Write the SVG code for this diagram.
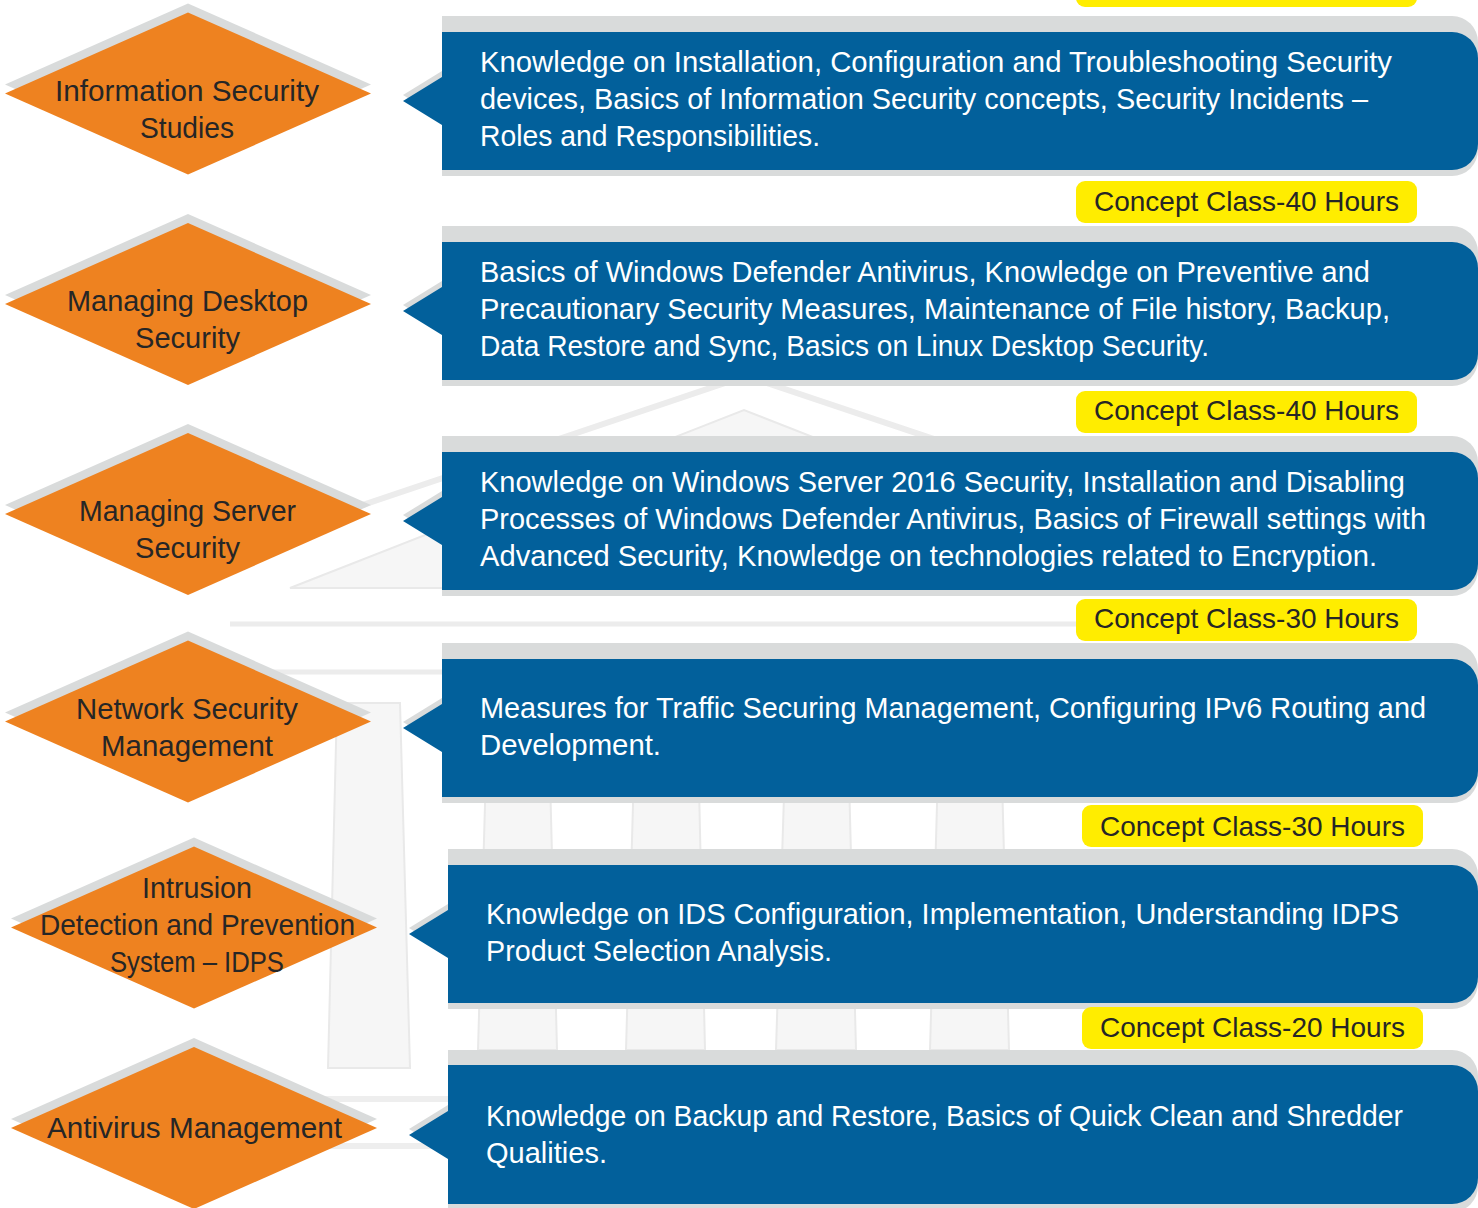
<svg xmlns="http://www.w3.org/2000/svg" xmlns:xlink="http://www.w3.org/1999/xlink" width="1478" height="1208" viewBox="0 0 1478 1208">
<style>
.dia{fill:#EE8220}
.sh{fill:#D9DBDB}
.box{fill:#02609B}
.lab{fill:#FFED00}
.dt{font-family:"Liberation Sans",Arial,sans-serif;font-size:29px;fill:#262626;text-anchor:middle}
.bt{font-family:"Liberation Sans",Arial,sans-serif;font-size:29px;fill:#FFFFFF}
.lt{font-family:"Liberation Sans",Arial,sans-serif;font-size:28px;fill:#262626;text-anchor:middle}
.bgl{stroke:#ECECEC;fill:none}
.bgf{fill:#F6F6F6;stroke:#E9E9E9;stroke-width:2}
</style>
<defs>
<path id="dm" d="M-183,0 L0,-81 L183,0 L0,81 Z"/>
</defs>
<rect width="1478" height="1208" fill="#FFFFFF"/>
<g id="background">
<polygon class="bgf" points="290,588 744,410 1198,588" stroke-width="3"/>
<polyline class="bgl" points="330,516 746,376 1190,525" stroke-width="6"/>
<line class="bgl" x1="230" y1="624" x2="1300" y2="624" stroke-width="5"/>
<line class="bgl" x1="240" y1="672" x2="1300" y2="672" stroke-width="5"/>
<polygon class="bgf" points="337,703 400,703 410,1068 328,1068"/>
<polygon class="bgf" points="488,700 548,700 557,1050 478,1050"/>
<polygon class="bgf" points="636,700 697,700 705,1050 626,1050"/>
<polygon class="bgf" points="787,700 847,700 856,1050 776,1050"/>
<polygon class="bgf" points="940,700 1000,700 1009,1050 930,1050"/>
<rect x="300" y="1096" width="148" height="6" fill="#EEEEEE"/>
<rect x="300" y="1143" width="148" height="6" fill="#EEEEEE"/>
</g>
<g id="label-top"><rect class="lab" x="1076" y="-40" width="341" height="47" rx="9"/></g>

<g id="node-1">
<use href="#dm" class="sh" x="188" y="84.5"/>
<use href="#dm" class="dia" x="188" y="93.5"/>
<text class="dt" x="187" y="101" textLength="264" lengthAdjust="spacingAndGlyphs">Information Security</text>
<text class="dt" x="187" y="138" textLength="94" lengthAdjust="spacingAndGlyphs">Studies</text>
</g>
<g id="node-2">
<use href="#dm" class="sh" x="188" y="295"/>
<use href="#dm" class="dia" x="188" y="304"/>
<text class="dt" x="187.5" y="311" textLength="241" lengthAdjust="spacingAndGlyphs">Managing Desktop</text>
<text class="dt" x="187.5" y="348" textLength="105" lengthAdjust="spacingAndGlyphs">Security</text>
</g>
<g id="node-3">
<use href="#dm" class="sh" x="188" y="505"/>
<use href="#dm" class="dia" x="188" y="514"/>
<text class="dt" x="187.5" y="521" textLength="217" lengthAdjust="spacingAndGlyphs">Managing Server</text>
<text class="dt" x="187.5" y="558" textLength="105" lengthAdjust="spacingAndGlyphs">Security</text>
</g>
<g id="node-4">
<use href="#dm" class="sh" x="188" y="712.5"/>
<use href="#dm" class="dia" x="188" y="721.5"/>
<text class="dt" x="187" y="719" textLength="222" lengthAdjust="spacingAndGlyphs">Network Security</text>
<text class="dt" x="187" y="756" textLength="172" lengthAdjust="spacingAndGlyphs">Management</text>
</g>
<g id="node-5">
<use href="#dm" class="sh" x="194" y="918.5"/>
<use href="#dm" class="dia" x="194" y="927.5"/>
<text class="dt" x="197" y="898" textLength="110" lengthAdjust="spacingAndGlyphs">Intrusion</text>
<text class="dt" x="197.5" y="935" textLength="315" lengthAdjust="spacingAndGlyphs">Detection and Prevention</text>
<text class="dt" x="197" y="972" textLength="174" lengthAdjust="spacingAndGlyphs">System – IDPS</text>
</g>
<g id="node-6">
<use href="#dm" class="sh" x="194" y="1119"/>
<use href="#dm" class="dia" x="194" y="1128"/>
<text class="dt" x="194.5" y="1138" textLength="295" lengthAdjust="spacingAndGlyphs">Antivirus Management</text>
</g>

<g id="connectors">
<polygon class="sh" points="442,71 403,95 442,119"/>
<polygon class="box" points="442,77 403,101 442,125"/>
<polygon class="sh" points="442,281 403,305 442,329"/>
<polygon class="box" points="442,287 403,311 442,335"/>
<polygon class="sh" points="442,491 403,515 442,539"/>
<polygon class="box" points="442,497 403,521 442,545"/>
<polygon class="sh" points="442,698 403,722 442,746"/>
<polygon class="box" points="442,704 403,728 442,752"/>
<polygon class="sh" points="448,904 409,928 448,952"/>
<polygon class="box" points="448,910 409,934 448,958"/>
<polygon class="sh" points="448,1105 409,1129 448,1153"/>
<polygon class="box" points="448,1111 409,1135 448,1159"/>
</g>

<g id="box-1">
<path class="sh" d="M442,16 H1452 A26,26 0 0 1 1478,42 V150 A26,26 0 0 1 1452,176 H442 Z"/>
<path class="box" d="M442,32 H1452 A26,26 0 0 1 1478,58 V144 A26,26 0 0 1 1452,170 H442 Z"/>
<text class="bt" x="480" y="72" textLength="912" lengthAdjust="spacingAndGlyphs">Knowledge on Installation, Configuration and Troubleshooting Security</text>
<text class="bt" x="480" y="109" textLength="888" lengthAdjust="spacingAndGlyphs">devices, Basics of Information Security concepts, Security Incidents –</text>
<text class="bt" x="480" y="146" textLength="340" lengthAdjust="spacingAndGlyphs">Roles and Responsibilities.</text>
</g>
<g id="label-1"><rect class="lab" x="1076" y="181" width="341" height="42" rx="9"/><text class="lt" x="1246.5" y="211" textLength="305" lengthAdjust="spacingAndGlyphs">Concept Class-40 Hours</text></g>

<g id="box-2">
<path class="sh" d="M442,226 H1452 A26,26 0 0 1 1478,252 V360 A26,26 0 0 1 1452,386 H442 Z"/>
<path class="box" d="M442,242 H1452 A26,26 0 0 1 1478,268 V354 A26,26 0 0 1 1452,380 H442 Z"/>
<text class="bt" x="480" y="282" textLength="890" lengthAdjust="spacingAndGlyphs">Basics of Windows Defender Antivirus, Knowledge on Preventive and</text>
<text class="bt" x="480" y="319" textLength="910" lengthAdjust="spacingAndGlyphs">Precautionary Security Measures, Maintenance of File history, Backup,</text>
<text class="bt" x="480" y="356" textLength="729" lengthAdjust="spacingAndGlyphs">Data Restore and Sync, Basics on Linux Desktop Security.</text>
</g>
<g id="label-2"><rect class="lab" x="1076" y="391" width="341" height="42" rx="9"/><text class="lt" x="1246.5" y="420" textLength="305" lengthAdjust="spacingAndGlyphs">Concept Class-40 Hours</text></g>

<g id="box-3">
<path class="sh" d="M442,436 H1452 A26,26 0 0 1 1478,462 V570 A26,26 0 0 1 1452,596 H442 Z"/>
<path class="box" d="M442,452 H1452 A26,26 0 0 1 1478,478 V564 A26,26 0 0 1 1452,590 H442 Z"/>
<text class="bt" x="480" y="492" textLength="925" lengthAdjust="spacingAndGlyphs">Knowledge on Windows Server 2016 Security, Installation and Disabling</text>
<text class="bt" x="480" y="529" textLength="946" lengthAdjust="spacingAndGlyphs">Processes of Windows Defender Antivirus, Basics of Firewall settings with</text>
<text class="bt" x="480" y="566" textLength="897" lengthAdjust="spacingAndGlyphs">Advanced Security, Knowledge on technologies related to Encryption.</text>
</g>
<g id="label-3"><rect class="lab" x="1076" y="599" width="341" height="42" rx="9"/><text class="lt" x="1246.5" y="628" textLength="305" lengthAdjust="spacingAndGlyphs">Concept Class-30 Hours</text></g>

<g id="box-4">
<path class="sh" d="M442,643 H1452 A26,26 0 0 1 1478,669 V777 A26,26 0 0 1 1452,803 H442 Z"/>
<path class="box" d="M442,659 H1452 A26,26 0 0 1 1478,685 V771 A26,26 0 0 1 1452,797 H442 Z"/>
<text class="bt" x="480" y="718" textLength="946" lengthAdjust="spacingAndGlyphs">Measures for Traffic Securing Management, Configuring IPv6 Routing and</text>
<text class="bt" x="480" y="755" textLength="181" lengthAdjust="spacingAndGlyphs">Development.</text>
</g>
<g id="label-4"><rect class="lab" x="1082" y="805" width="341" height="42" rx="9"/><text class="lt" x="1252.5" y="836" textLength="305" lengthAdjust="spacingAndGlyphs">Concept Class-30 Hours</text></g>

<g id="box-5">
<path class="sh" d="M448,849 H1452 A26,26 0 0 1 1478,875 V983 A26,26 0 0 1 1452,1009 H448 Z"/>
<path class="box" d="M448,865 H1452 A26,26 0 0 1 1478,891 V977 A26,26 0 0 1 1452,1003 H448 Z"/>
<text class="bt" x="486" y="924" textLength="913" lengthAdjust="spacingAndGlyphs">Knowledge on IDS Configuration, Implementation, Understanding IDPS</text>
<text class="bt" x="486" y="961" textLength="346" lengthAdjust="spacingAndGlyphs">Product Selection Analysis.</text>
</g>
<g id="label-5"><rect class="lab" x="1082" y="1007" width="341" height="42" rx="9"/><text class="lt" x="1252.5" y="1037" textLength="305" lengthAdjust="spacingAndGlyphs">Concept Class-20 Hours</text></g>

<g id="box-6">
<path class="sh" d="M448,1050 H1452 A26,26 0 0 1 1478,1076 V1186 A26,26 0 0 1 1452,1212 H448 Z"/>
<path class="box" d="M448,1065 H1452 A26,26 0 0 1 1478,1091 V1178 A26,26 0 0 1 1452,1204 H448 Z"/>
<text class="bt" x="486" y="1126" textLength="917" lengthAdjust="spacingAndGlyphs">Knowledge on Backup and Restore, Basics of Quick Clean and Shredder</text>
<text class="bt" x="486" y="1163" textLength="121" lengthAdjust="spacingAndGlyphs">Qualities.</text>
</g>
</svg>
